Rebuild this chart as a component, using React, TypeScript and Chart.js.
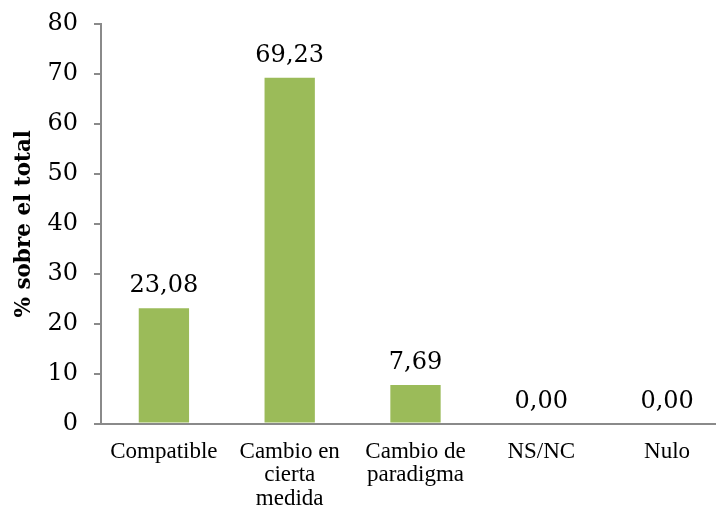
import React, { useEffect, useRef } from "react";
import { Chart, registerables } from "chart.js";

Chart.register(...registerables);

const categories: (string | string[])[] = [
  "Compatible",
  ["Cambio en", "cierta", "medida"],
  ["Cambio de", "paradigma"],
  "NS/NC",
  "Nulo",
];
const values: number[] = [23.08, 69.23, 7.69, 0, 0];
const yAxisTitle = "% sobre el total";
const yMin = 0;
const yMax = 80;
const yStep = 10;

const BAR_COLOR = "#9BBB59";
const AXIS_COLOR = "#8A8A8A";

const valueLabels = {
  id: "valueLabels",
  afterDatasetsDraw(chart: any) {
    const ctx = chart.ctx;
    const meta = chart.getDatasetMeta(0);
    ctx.save();
    ctx.font = "24px 'DejaVu Serif'";
    ctx.fillStyle = "#000";
    ctx.textAlign = "center";
    ctx.textBaseline = "alphabetic";
    meta.data.forEach((el: any, i: number) => {
      const v = values[i];
      const txt = v.toFixed(2).replace(".", ",");
      ctx.fillText(txt, el.x, el.y - 16);
    });
    ctx.restore();
  },
};

export default function App() {
  const ref = useRef<HTMLCanvasElement | null>(null);
  useEffect(() => {
    if (!ref.current) return;
    const chart = new Chart(ref.current, {
      type: "bar",
      data: {
        labels: categories,
        datasets: [
          {
            data: values,
            backgroundColor: BAR_COLOR,
            borderWidth: 0,
            barPercentage: 0.4,
            categoryPercentage: 1,
          },
        ],
      },
      options: {
        animation: false,
        responsive: false,
        devicePixelRatio: 1,
        layout: { padding: { top: 24, right: 0, bottom: 0, left: 0 } },
        plugins: {
          legend: { display: false },
          tooltip: { enabled: false },
        },
        scales: {
          x: {
            grid: { display: false, drawTicks: false },
            border: { display: true, color: AXIS_COLOR, width: 2 },
            ticks: {
              color: "#000",
              font: { family: "'Liberation Serif'", size: 23, lineHeight: 1.04 },
              padding: 16,
              autoSkip: false,
              maxRotation: 0,
              minRotation: 0,
            },
            afterFit: (s: any) => {
              s.height = 82.5;
            },
          },
          y: {
            min: yMin,
            max: yMax,
            ticks: {
              stepSize: yStep,
              color: "#000",
              font: { family: "'DejaVu Serif'", size: 24, lineHeight: 0.2 },
              padding: 16,
            },
            grid: {
              drawOnChartArea: false,
              drawTicks: true,
              tickLength: 7,
              color: AXIS_COLOR,
              lineWidth: 2,
            },
            border: { display: true, color: AXIS_COLOR, width: 2 },
            title: {
              display: true,
              text: yAxisTitle,
              color: "#000",
              font: { family: "'DejaVu Serif'", size: 21.5, weight: "bold" },
              padding: { top: 12, bottom: 0 },
            },
            afterFit: (s: any) => {
              s.width = 101;
            },
          },
        },
      },
      plugins: [valueLabels],
    });
    return () => chart.destroy();
  }, []);
  return (
    <div
      style={{
        position: "absolute",
        left: 0,
        top: 0,
        width: 716,
        height: 506,
        overflow: "hidden",
        background: "#fff",
      }}
    >
      <canvas ref={ref} width={730} height={506} style={{ display: "block" }} />
    </div>
  );
}
